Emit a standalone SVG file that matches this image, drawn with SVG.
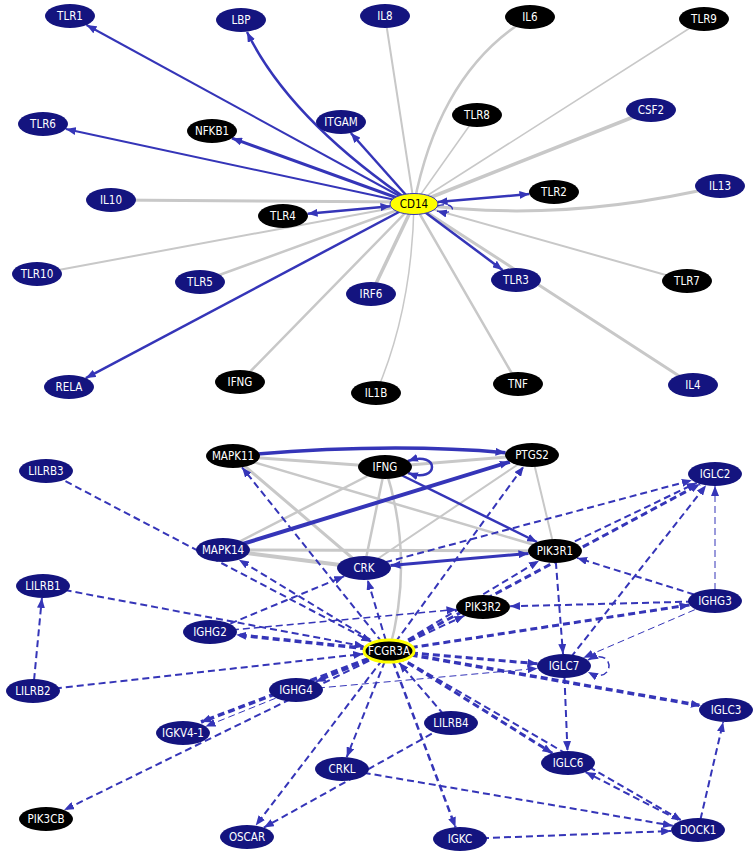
<svg xmlns="http://www.w3.org/2000/svg" width="755" height="857" viewBox="0 0 755 857">
<style>
.g{stroke:#c8c8c8;fill:none;stroke-linecap:round}
.b{stroke:#3535b8;fill:none}
.d{stroke-dasharray:7 4}
.n{fill:#14147f}
.k{fill:#000}
text{font-family:"DejaVu Sans Condensed","DejaVu Sans",sans-serif;font-size:11.5px;fill:#fff;text-anchor:middle}
</style>
<defs>
<marker id="a" markerUnits="userSpaceOnUse" markerWidth="10" markerHeight="8" refX="10" refY="4" orient="auto-start-reverse"><path d="M0,0 L10,4 L0,8 z" fill="#3535b8"/></marker>
</defs>
<rect width="755" height="857" fill="#fff"/>
<g id="connectors">
<!-- top grey -->
<path class="g" stroke-width="2" d="M414,204 L385,16"/>
<path class="g" stroke-width="2.5" d="M414,204 Q440,70 530,17"/>
<path class="g" stroke-width="1.5" d="M414,204 L704,19"/>
<path class="g" stroke-width="1.5" d="M414,204 L477,115"/>
<path class="g" stroke-width="3.5" d="M414,204 L651,110"/>
<path class="g" stroke-width="3" d="M414,204 Q560,224 720,186"/>
<path class="g" stroke-width="3" d="M414,202 L111,200"/>
<path class="g" stroke-width="2" d="M414,204 L37,274"/>
<path class="g" stroke-width="2.5" d="M414,204 L200,282"/>
<path class="g" stroke-width="3.5" d="M414,204 L371,294"/>
<path class="g" stroke-width="2.5" d="M414,204 L240,382"/>
<path class="g" stroke-width="1.5" d="M414,204 Q412,310 376,393"/>
<path class="g" stroke-width="2.5" d="M414,204 L518,384"/>
<path class="g" stroke-width="3" d="M414,204 L693,385"/>
<path class="g" stroke-width="2" d="M414,204 L687,281"/>
<!-- top blue -->
<path class="b" stroke-width="2" marker-end="url(#a)" d="M414,204 L86.5,25"/>
<path class="b" stroke-width="2.5" marker-end="url(#a)" d="M414,204 Q290,120 247,32"/>
<path class="b" stroke-width="2" marker-end="url(#a)" d="M414,204 L65.8,128.9"/>
<path class="b" stroke-width="3" marker-end="url(#a)" d="M414,204 L232,138.2"/>
<path class="b" stroke-width="2.5" marker-end="url(#a)" d="M414,204 L350.8,133"/>
<path class="b" stroke-width="2.5" marker-start="url(#a)" marker-end="url(#a)" d="M390.5,206.2 L307.6,213.7"/>
<path class="b" stroke-width="2.5" marker-start="url(#a)" marker-end="url(#a)" d="M437.6,202 L529.4,194.1"/>
<path class="b" stroke-width="2.5" marker-end="url(#a)" d="M414,204 L502.5,269.9"/>
<path class="b" stroke-width="2.5" marker-end="url(#a)" d="M414,204 L85.8,378.1"/>
<path class="b d" stroke-width="1.5" marker-end="url(#a)" d="M437,206 C456,200 459,217 437,211"/>
<!-- bottom grey -->
<path class="g" stroke-width="3" d="M233,456 L385,467"/>
<path class="g" stroke-width="2.5" d="M233,456 L555,551"/>
<path class="g" stroke-width="3" d="M233,456 L364,568"/>
<path class="g" stroke-width="3" d="M385,467 L532,455"/>
<path class="g" stroke-width="2.5" d="M385,467 L223,550"/>
<path class="g" stroke-width="2.5" d="M385,467 L364,568"/>
<path class="g" stroke-width="2.5" d="M385,467 Q415,560 389,651"/>
<path class="g" stroke-width="2" d="M532,455 L364,568"/>
<path class="g" stroke-width="2" d="M532,455 L555,551"/>
<path class="g" stroke-width="3" d="M223,550 L555,551"/>
<path class="g" stroke-width="4" d="M223,550 L364,568"/>
<!-- bottom blue solid -->
<path class="b" stroke-width="3.5" marker-end="url(#a)" d="M233,456 Q385,442 505.5,452.7"/>
<path class="b" stroke-width="4" marker-end="url(#a)" d="M223,550 L509.8,461.8"/>
<path class="b" stroke-width="2.5" marker-end="url(#a)" d="M385,467 L537,542"/>
<path class="b" stroke-width="3" marker-start="url(#a)" marker-end="url(#a)" d="M390.5,565.6 L528.5,553.4"/>
<path class="b" stroke-width="2.5" marker-start="url(#a)" marker-end="url(#a)" d="M408,461 C440,450 440,484 408,473"/>
<!-- bottom dashed -->
<path class="b d" stroke-width="2" marker-end="url(#a)" d="M46,471 L371.3,641.7"/>
<path class="b d" stroke-width="2" marker-end="url(#a)" d="M43,586 L364.4,646.4"/>
<path class="b d" stroke-width="2" marker-end="url(#a)" d="M33,691 L41.9,598"/>
<path class="b d" stroke-width="2" marker-end="url(#a)" d="M33,691 L363.2,653.9"/>
<path class="b d" stroke-width="2" marker-end="url(#a)" d="M389,651 L242,467.3"/>
<path class="b d" stroke-width="2" marker-end="url(#a)" d="M389,651 L238.9,559.7"/>
<path class="b d" stroke-width="2" marker-end="url(#a)" d="M389,651 L367.6,579.9"/>
<path class="b d" stroke-width="2" marker-end="url(#a)" d="M389,651 L523.7,466.4"/>
<path class="b d" stroke-width="2" marker-end="url(#a)" d="M389,651 L539,560.7"/>
<path class="b d" stroke-width="2" marker-end="url(#a)" d="M389,651 L464.4,615.7"/>
<path class="b d" stroke-width="1.5" marker-end="url(#a)" d="M210,632 L456.5,609.4"/>
<path class="b d" stroke-width="2" marker-end="url(#a)" d="M715,601 L510,606.3"/>
<path class="b d" stroke-width="2" marker-end="url(#a)" d="M715,601 L577.1,557.9"/>
<path class="b d" stroke-width="1" marker-end="url(#a)" d="M715,601 L715,486"/>
<path class="b d" stroke-width="2" marker-end="url(#a)" d="M364,568 L691.9,480.2"/>
<path class="b d" stroke-width="2" marker-end="url(#a)" d="M555,551 L696.7,482.8"/>
<path class="b d" stroke-width="3" marker-end="url(#a)" d="M389,651 L700,484"/>
<path class="b d" stroke-width="2" marker-end="url(#a)" d="M564,666 L706.1,485.3"/>
<path class="b d" stroke-width="3" marker-end="url(#a)" d="M389,651 L689.5,604.9"/>
<path class="b d" stroke-width="1" marker-end="url(#a)" d="M715,601 L583.4,657.7"/>
<path class="b d" stroke-width="1.5" marker-start="url(#a)" marker-end="url(#a)" d="M588,660 C616,645 616,687 588,672"/>
<path class="b d" stroke-width="2" marker-end="url(#a)" d="M555,551 L563,654"/>
<path class="b d" stroke-width="3" marker-end="url(#a)" d="M389,651 L537.5,663.7"/>
<path class="b d" stroke-width="1" marker-end="url(#a)" d="M296,690 L537.5,668.4"/>
<path class="b d" stroke-width="2" marker-end="url(#a)" d="M564,666 L567.5,751"/>
<path class="b d" stroke-width="3.5" marker-end="url(#a)" d="M389,651 L700.9,705.6"/>
<path class="b d" stroke-width="3" marker-end="url(#a)" d="M389,651 L552.4,753.2"/>
<path class="b d" stroke-width="2" marker-end="url(#a)" d="M389,651 L681.6,820.5"/>
<path class="b d" stroke-width="2" marker-end="url(#a)" d="M698,830 L585.6,772.1"/>
<path class="b d" stroke-width="2" marker-end="url(#a)" d="M698,830 L723.2,721.9"/>
<path class="b d" stroke-width="2" marker-end="url(#a)" d="M460,839 L671.1,831"/>
<path class="b d" stroke-width="2" marker-end="url(#a)" d="M342,769 L672.8,825.7"/>
<path class="b d" stroke-width="2" marker-end="url(#a)" d="M451,723 L263.8,827.6"/>
<path class="b d" stroke-width="2" marker-end="url(#a)" d="M389,651 L255.7,825.6"/>
<path class="b d" stroke-width="2" marker-end="url(#a)" d="M389,651 L346.7,757.2"/>
<path class="b d" stroke-width="2.5" marker-end="url(#a)" d="M389,651 L455.5,827.2"/>
<path class="b d" stroke-width="2" marker-end="url(#a)" d="M451,723 L399,662.6"/>
<path class="b d" stroke-width="2" marker-end="url(#a)" d="M389,651 L64.1,810.1"/>
<path class="b d" stroke-width="3.5" marker-end="url(#a)" d="M389,651 L201,722"/>
<path class="b d" stroke-width="1" marker-end="url(#a)" d="M296,690 L205.5,726.5"/>
<path class="b d" stroke-width="2.5" marker-end="url(#a)" d="M389,651 L315.7,681.8"/>
<path class="b d" stroke-width="3.5" marker-end="url(#a)" d="M389,651 L236.2,634.8"/>
<path class="b d" stroke-width="2" marker-end="url(#a)" d="M210,632 L344.3,576.2"/>
</g>
<!-- top nodes -->
<g id="node-TLR1"><ellipse class="n" cx="70" cy="16" rx="25" ry="12"/><text x="70" y="20">TLR1</text></g>
<g id="node-LBP"><ellipse class="n" cx="241" cy="20" rx="25" ry="12"/><text x="241" y="24">LBP</text></g>
<g id="node-IL8"><ellipse class="n" cx="385" cy="16" rx="25" ry="12"/><text x="385" y="20">IL8</text></g>
<g id="node-IL6"><ellipse class="k" cx="530" cy="17" rx="25" ry="12"/><text x="530" y="21">IL6</text></g>
<g id="node-TLR9"><ellipse class="k" cx="704" cy="19" rx="25" ry="12"/><text x="704" y="23">TLR9</text></g>
<g id="node-TLR6"><ellipse class="n" cx="43" cy="124" rx="25" ry="12"/><text x="43" y="128">TLR6</text></g>
<g id="node-NFKB1"><ellipse class="k" cx="212" cy="131" rx="25" ry="12"/><text x="212" y="135">NFKB1</text></g>
<g id="node-ITGAM"><ellipse class="n" cx="341" cy="122" rx="25" ry="12"/><text x="341" y="126">ITGAM</text></g>
<g id="node-TLR8"><ellipse class="k" cx="477" cy="115" rx="25" ry="12"/><text x="477" y="119">TLR8</text></g>
<g id="node-CSF2"><ellipse class="n" cx="651" cy="110" rx="25" ry="12"/><text x="651" y="114">CSF2</text></g>
<g id="node-IL10"><ellipse class="n" cx="111" cy="200" rx="25" ry="12"/><text x="111" y="204">IL10</text></g>
<g id="node-TLR4"><ellipse class="k" cx="283" cy="216" rx="25" ry="12"/><text x="283" y="220">TLR4</text></g>
<g id="node-CD14"><ellipse cx="414" cy="204" rx="24" ry="10.5" fill="#ffff00" stroke="#3535b8" stroke-width="1"/><text x="414" y="208" style="fill:#000">CD14</text></g>
<g id="node-TLR2"><ellipse class="k" cx="554" cy="192" rx="25" ry="12"/><text x="554" y="196">TLR2</text></g>
<g id="node-IL13"><ellipse class="n" cx="720" cy="186" rx="25" ry="12"/><text x="720" y="190">IL13</text></g>
<g id="node-TLR10"><ellipse class="n" cx="37" cy="274" rx="25" ry="12"/><text x="37" y="278">TLR10</text></g>
<g id="node-TLR5"><ellipse class="n" cx="200" cy="282" rx="25" ry="12"/><text x="200" y="286">TLR5</text></g>
<g id="node-IRF6"><ellipse class="n" cx="371" cy="294" rx="25" ry="12"/><text x="371" y="298">IRF6</text></g>
<g id="node-TLR3"><ellipse class="n" cx="516" cy="280" rx="25" ry="12"/><text x="516" y="284">TLR3</text></g>
<g id="node-TLR7"><ellipse class="k" cx="687" cy="281" rx="25" ry="12"/><text x="687" y="285">TLR7</text></g>
<g id="node-RELA"><ellipse class="n" cx="69" cy="387" rx="25" ry="12"/><text x="69" y="391">RELA</text></g>
<g id="node-IFNG-top"><ellipse class="k" cx="240" cy="382" rx="25" ry="12"/><text x="240" y="386">IFNG</text></g>
<g id="node-IL1B"><ellipse class="k" cx="376" cy="393" rx="25" ry="12"/><text x="376" y="397">IL1B</text></g>
<g id="node-TNF"><ellipse class="k" cx="518" cy="384" rx="25" ry="12"/><text x="518" y="388">TNF</text></g>
<g id="node-IL4"><ellipse class="n" cx="693" cy="385" rx="25" ry="12"/><text x="693" y="389">IL4</text></g>
<!-- bottom nodes -->
<g id="node-MAPK11"><ellipse class="k" cx="233" cy="456" rx="27" ry="12"/><text x="233" y="460">MAPK11</text></g>
<g id="node-IFNG-bottom"><ellipse class="k" cx="385" cy="467" rx="27" ry="12"/><text x="385" y="471">IFNG</text></g>
<g id="node-PTGS2"><ellipse class="k" cx="532" cy="455" rx="27" ry="12"/><text x="532" y="459">PTGS2</text></g>
<g id="node-LILRB3"><ellipse class="n" cx="46" cy="471" rx="27" ry="12"/><text x="46" y="475">LILRB3</text></g>
<g id="node-IGLC2"><ellipse class="n" cx="715" cy="474" rx="27" ry="12"/><text x="715" y="478">IGLC2</text></g>
<g id="node-MAPK14"><ellipse class="n" cx="223" cy="550" rx="27" ry="12"/><text x="223" y="554">MAPK14</text></g>
<g id="node-CRK"><ellipse class="n" cx="364" cy="568" rx="27" ry="12"/><text x="364" y="572">CRK</text></g>
<g id="node-PIK3R1"><ellipse class="k" cx="555" cy="551" rx="27" ry="12"/><text x="555" y="555">PIK3R1</text></g>
<g id="node-LILRB1"><ellipse class="n" cx="43" cy="586" rx="27" ry="12"/><text x="43" y="590">LILRB1</text></g>
<g id="node-IGHG2"><ellipse class="n" cx="210" cy="632" rx="27" ry="12"/><text x="210" y="636">IGHG2</text></g>
<g id="node-PIK3R2"><ellipse class="k" cx="483" cy="607" rx="27" ry="12"/><text x="483" y="611">PIK3R2</text></g>
<g id="node-IGHG3"><ellipse class="n" cx="715" cy="601" rx="27" ry="12"/><text x="715" y="605">IGHG3</text></g>
<g id="node-FCGR3A"><ellipse cx="389" cy="651" rx="25" ry="11" fill="#000" stroke="#ffff00" stroke-width="3"/><text x="389" y="655">FCGR3A</text></g>
<g id="node-IGLC7"><ellipse class="n" cx="564" cy="666" rx="27" ry="12"/><text x="564" y="670">IGLC7</text></g>
<g id="node-LILRB2"><ellipse class="n" cx="33" cy="691" rx="27" ry="12"/><text x="33" y="695">LILRB2</text></g>
<g id="node-IGHG4"><ellipse class="n" cx="296" cy="690" rx="27" ry="12"/><text x="296" y="694">IGHG4</text></g>
<g id="node-IGKV4-1"><ellipse class="n" cx="183" cy="733" rx="27" ry="12"/><text x="183" y="737">IGKV4-1</text></g>
<g id="node-IGLC3"><ellipse class="n" cx="726" cy="710" rx="27" ry="12"/><text x="726" y="714">IGLC3</text></g>
<g id="node-LILRB4"><ellipse class="n" cx="451" cy="723" rx="27" ry="12"/><text x="451" y="727">LILRB4</text></g>
<g id="node-CRKL"><ellipse class="n" cx="342" cy="769" rx="27" ry="12"/><text x="342" y="773">CRKL</text></g>
<g id="node-IGLC6"><ellipse class="n" cx="568" cy="763" rx="27" ry="12"/><text x="568" y="767">IGLC6</text></g>
<g id="node-PIK3CB"><ellipse class="k" cx="46" cy="819" rx="27" ry="12"/><text x="46" y="823">PIK3CB</text></g>
<g id="node-OSCAR"><ellipse class="n" cx="247" cy="837" rx="27" ry="12"/><text x="247" y="841">OSCAR</text></g>
<g id="node-IGKC"><ellipse class="n" cx="460" cy="839" rx="27" ry="12"/><text x="460" y="843">IGKC</text></g>
<g id="node-DOCK1"><ellipse class="n" cx="698" cy="830" rx="27" ry="12"/><text x="698" y="834">DOCK1</text></g>
</svg>
